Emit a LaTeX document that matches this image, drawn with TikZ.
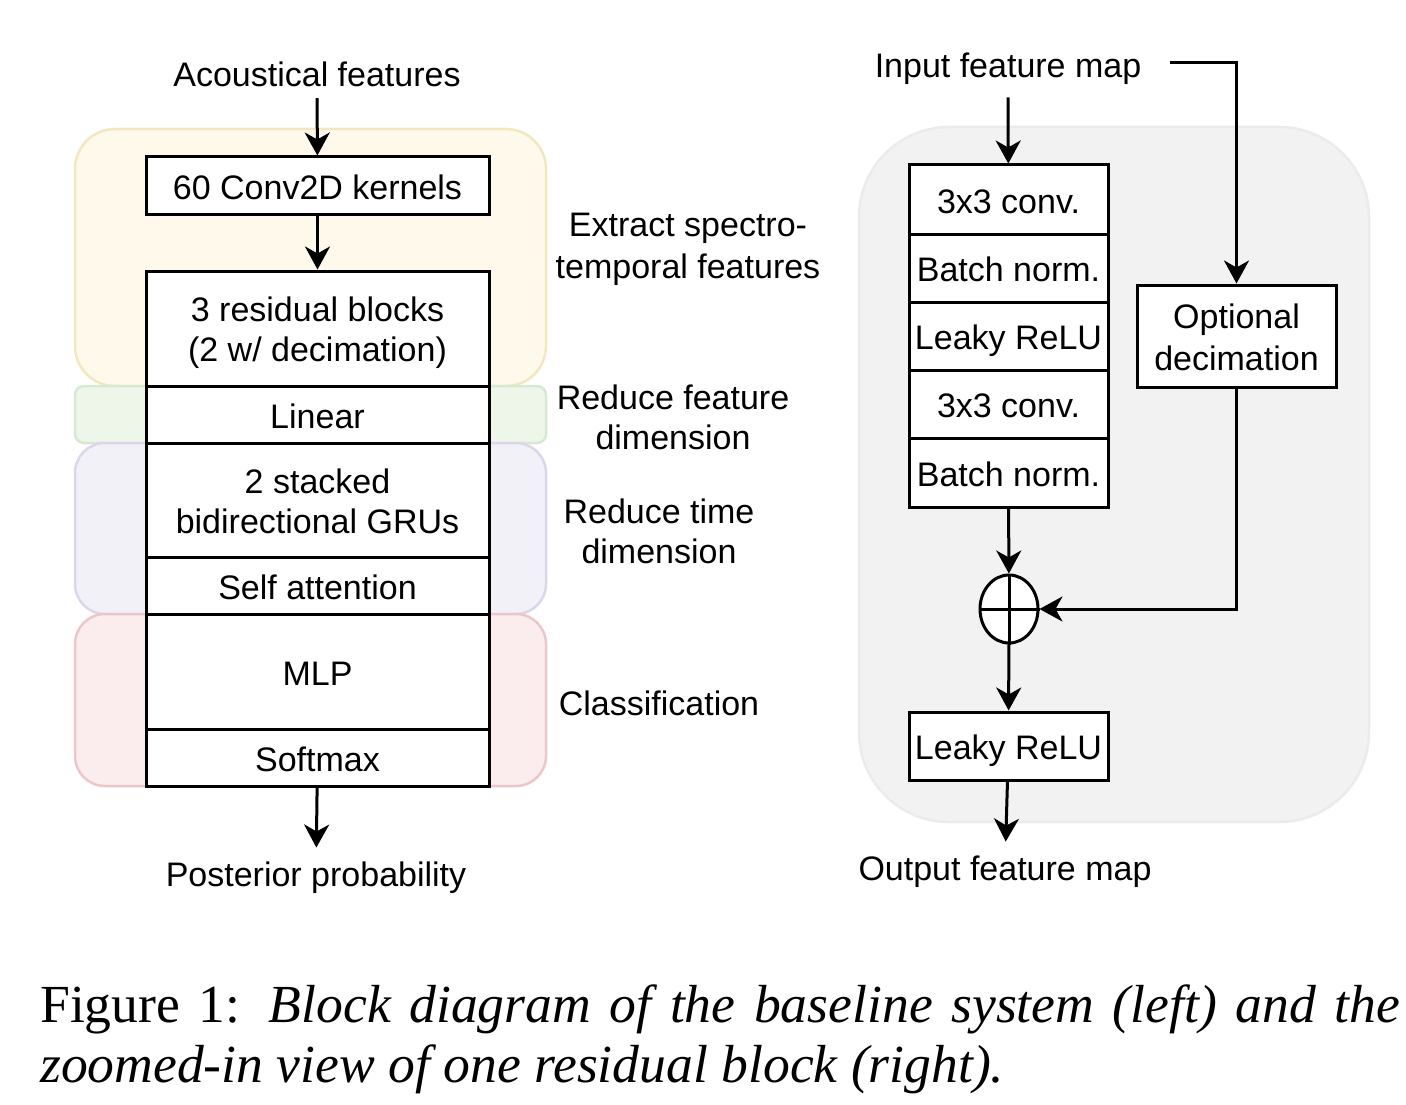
\documentclass[tikz,border=0pt]{standalone}
\usepackage{fontspec}
\setmainfont{Liberation Sans}
\newfontfamily\capfamily{Liberation Serif}
\usetikzlibrary{arrows.meta,shapes.geometric}
\definecolor{yelF}{HTML}{FFF9EB}
\definecolor{yelS}{HTML}{F3E7C1}
\definecolor{grnF}{HTML}{EEF6EA}
\definecolor{grnS}{HTML}{D6E9D2}
\definecolor{purF}{HTML}{F3F1F8}
\definecolor{purS}{HTML}{DDD5EA}
\definecolor{redF}{HTML}{FBEDED}
\definecolor{redS}{HTML}{EDC7C7}
\definecolor{gryF}{HTML}{F2F2F2}
\definecolor{gryS}{HTML}{EBEBEB}
\newcommand\ms{\rule[-6.5pt]{0pt}{40pt}}
\newcommand\lblfont{\fontsize{34}{40}\selectfont}
\newcommand\capfont{\capfamily\fontsize{53.6}{60}\selectfont}
\begin{document}
\begin{tikzpicture}[x=1pt,y=-1pt,
  blk/.style={draw,line width=3pt,fill=white,inner sep=0pt,align=center,font=\lblfont},
  lblk/.style={blk,minimum width=343pt},
  rblk/.style={blk,minimum width=199pt},
  txt/.style={inner sep=5pt,align=center,font=\lblfont},
  grp/.style={line width=2.5pt},
  arr/.style={line width=3pt,-{Stealth[length=23pt,width=25pt,inset=7pt]}},
  plain/.style={line width=3pt}]
\useasboundingbox (0,0) rectangle (1406,1105);
% group backgrounds
\draw[grp,fill=yelF,draw=yelS,rounded corners=40pt] (75,129) rectangle (546,386);
\draw[grp,fill=grnF,draw=grnS,rounded corners=9pt] (75,386) rectangle (546,443);
\draw[grp,fill=purF,draw=purS,rounded corners=30pt] (75,443) rectangle (546,614);
\draw[grp,fill=redF,draw=redS,rounded corners=30pt] (75,614) rectangle (546,786);
\draw[grp,fill=gryF,draw=gryS,rounded corners=90pt] (859,127) rectangle (1369,822);
% left column
\node[txt] (ac) at (317,73) {\ms Acoustical features};
\node[lblk,minimum height=57pt] (conv) at (317.5,185.5) {\ms 60 Conv2D kernels};
\node[lblk,minimum height=115pt] (res) at (317.5,328.5) {\ms 3 residual blocks\\\ms (2 w/ decimation)};
\node[lblk,minimum height=57pt] (lin) at (317.5,414.5) {\ms Linear};
\node[lblk,minimum height=114pt] (gru) at (317.5,500) {\ms 2 stacked\\\ms bidirectional GRUs};
\node[lblk,minimum height=57pt] (att) at (317.5,585.5) {\ms Self attention};
\node[lblk,minimum height=115pt] (mlp) at (317.5,671.5) {\ms MLP};
\node[lblk,minimum height=57pt] (soft) at (317.5,757.5) {\ms Softmax};
\node[txt] (post) at (316,873) {\ms Posterior probability};
\draw[arr] (ac) -- (conv);
\draw[arr] (conv) -- (res);
\draw[arr] (soft) -- (post);
% side labels
\node[txt] (l1) at (688,244) {\ms Extract spectro-\\\ms temporal features};
\node[txt] (l2) at (673,416) {\ms Reduce feature\\\ms dimension};
\node[txt] (l3) at (659,530) {\ms Reduce time\\\ms dimension};
\node[txt] (l4) at (659,702) {\ms Classification};
% right column
\node[txt] (in) at (1008,64) {\ms Input feature map};
\coordinate (inr) at (1170,63);
\node[rblk,minimum height=69pt] (c1) at (1008.5,199.5) {\ms 3x3 conv.};
\node[rblk,minimum height=68pt] (c2) at (1008.5,268) {\ms Batch norm.};
\node[rblk,minimum height=68pt] (c3) at (1008.5,336) {\ms Leaky ReLU};
\node[rblk,minimum height=68pt] (c4) at (1008.5,404) {\ms 3x3 conv.};
\node[rblk,minimum height=69pt] (c5) at (1008.5,472.5) {\ms Batch norm.};
\node[rblk,minimum height=102pt] (dec) at (1236.5,336) {\ms Optional\\\ms decimation};
\node[ellipse,draw,line width=3pt,fill=white,inner sep=0pt,minimum width=58pt,minimum height=68pt] (sum) at (1009,609) {};
\draw[plain] (sum.north) -- (sum.south);
\draw[plain] (sum.west) -- (sum.east);
\node[rblk,minimum height=68pt] (lr) at (1008.5,746) {\ms Leaky ReLU};
\node[txt] (out) at (1005,867) {\ms Output feature map};
\draw[arr] ([yshift=-8pt]in.south) -- (c1);
\draw[arr] (inr) -| (dec.north);
\draw[arr] (dec.south) |- (sum.east);
\draw[arr] (c5) -- (sum);
\draw[arr] (sum) -- (lr);
\draw[arr] (lr) -- (out);
% caption
\node[anchor=base west,inner sep=0pt,font=\capfont] (cap1) at (40,1022.7) {\makebox[1360pt][s]{Figure 1: \textit{Block diagram of the baseline system (left) and the}}};
\node[anchor=base west,inner sep=0pt,font=\capfont] (cap2) at (40,1082) {\textit{zoomed-in view of one residual block (right).}};
\end{tikzpicture}
\end{document}
